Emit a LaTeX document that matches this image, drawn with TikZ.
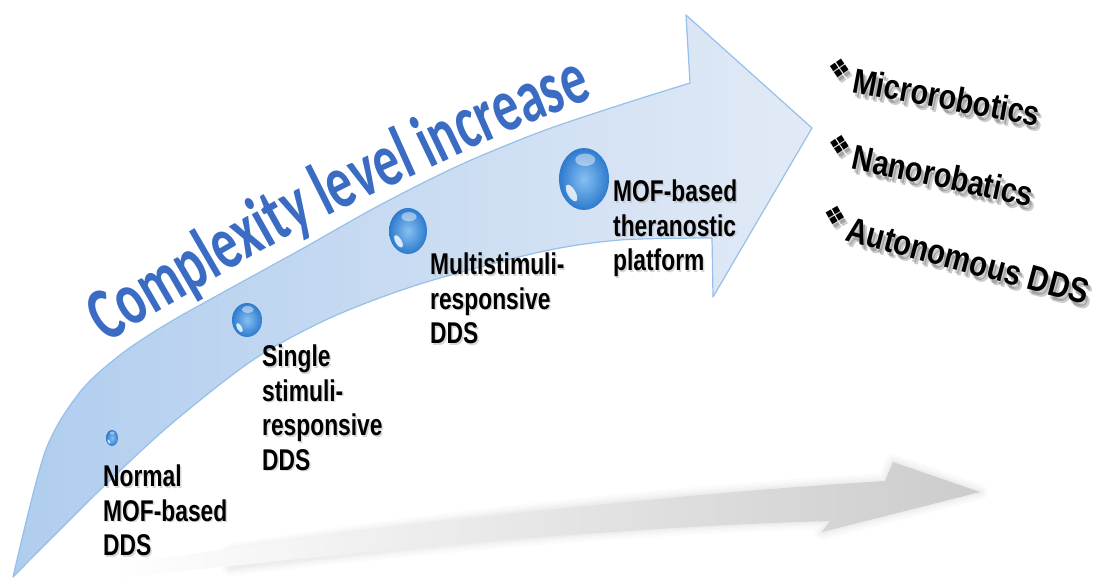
\documentclass[tikz,border=0pt]{standalone}
\usepackage{fontspec}
\usetikzlibrary{decorations.text}
\newfontfamily\wordart{Carlito}[FakeStretch=0.68]
\newfontfamily\lblfont{Liberation Sans}[FakeStretch=0.76]
\newfontfamily\listfont{Liberation Sans}[FakeStretch=0.82]
\newfontfamily\symfont{DejaVu Sans}

\definecolor{bandL}{RGB}{176,205,238}
\definecolor{bandR}{RGB}{226,234,246}
\definecolor{edgeblue}{RGB}{150,192,234}
\definecolor{wordblue}{RGB}{58,108,195}
\definecolor{ballin}{RGB}{135,192,242}
\definecolor{ballout}{RGB}{45,122,205}

% diamond bullet in front of each outcome
\newcommand\dingbul{\raisebox{12pt}{\symfont\fontsize{26}{26}\selectfont ❖}\hspace{4pt}}
% glossy sphere: centre x, centre y, x radius, y radius
\newcommand\glossball[4]{%
  \shade[inner color=ballin, outer color=ballout] (#1,#2) ellipse [x radius=#3pt, y radius=#4pt];
  \fill[white, opacity=0.45] (#1+0.05*#3,#2-0.62*#4) ellipse [x radius=0.4*#3 pt, y radius=0.2*#4 pt];
  \fill[white, opacity=0.8, rotate around={30:(#1-0.5*#3,#2+0.45*#4)}]
    (#1-0.5*#3,#2+0.45*#4) ellipse [x radius=0.16*#3 pt, y radius=0.3*#4 pt];
}

\tikzset{
  lbl/.style={inner sep=0pt, align=left, anchor=north west,
    font=\lblfont\bfseries\fontsize{30}{34.5}\selectfont},
  lblshadow/.style={text=black!30, opacity=0.5},
  lst/.style={inner sep=0pt, anchor=base west,
    font=\listfont\bfseries\fontsize{35}{40}\selectfont},
  lstshadow/.style={text=black, opacity=0.2},
}

\begin{document}
\begin{tikzpicture}[x=1pt, y=-1pt]
\useasboundingbox (0,0) rectangle (1101,579);
\fill[white] (0,0) rectangle (1101,579);

% soft grey shadow arrow on the floor
\foreach \w/\o in {16/0.04, 11/0.05, 7/0.06, 3/0.07}
  \draw[gray!60, line width=\w pt, opacity=\o, line join=round]
    (230,552) .. controls (450,516) and (700,492) .. (885,481) -- (893,462)
    -- (980,492) -- (822,532) -- (830,521)
    .. controls (650,526) and (450,542) .. (230,568) -- cycle;
\shade[left color=white, middle color=gray!33, right color=gray!40]
    (110,566) .. controls (400,522) and (700,492) .. (885,481) -- (893,462)
    -- (980,492) -- (822,532) -- (830,521)
    .. controls (650,526) and (400,546) .. (110,579) -- cycle;

% the curved rising arrow
\shadedraw[draw=edgeblue, line width=1.2pt, line join=round,
           left color=bandL, right color=bandR]
  plot[smooth] coordinates {(13,577) (45,452) (80,392) (120,355) (165,325)
      (220,294) (300,250) (380,205) (460,165) (540,132) (620,105) (690,83)}
  -- (686,15) -- (812,128) -- (713,297) -- (712,238)
  -- plot[smooth] coordinates {(712,238) (620,240) (540,252) (420,284)
      (330,318) (253,360) (170,425) (100,490) (13,577)}
  -- cycle;

% title running along the upper edge
\path[decorate, decoration={text along path, text color=wordblue,
      text={|\wordart\bfseries\fontsize{76}{76}\selectfont|Complexity level increase},
      text align=left}]
  (106,343) -- (150,316) -- (200,287) -- (250,258) -- (300,230) -- (360,200)
  -- (420,173) -- (470,149) -- (520,127) -- (590,99) -- (660,72);

% stage spheres
\glossball{112}{438}{6}{8}
\glossball{247}{320}{15}{17}
\glossball{408}{231}{19}{23}
\glossball{584}{179}{25}{31}

% stage labels
\node[lbl, lblshadow] (n1s) at (104.5,466.5) {Normal\\MOF-based\\DDS};
\node[lbl] (n1) at (103,465) {Normal\\MOF-based\\DDS};
\node[lbl, lblshadow] (n2s) at (263.5,346.5) {Single\\stimuli-\\responsive\\DDS};
\node[lbl] (n2) at (262,345) {Single\\stimuli-\\responsive\\DDS};
\node[lbl, lblshadow] (n3s) at (431.5,254.5) {Multistimuli-\\responsive\\DDS};
\node[lbl] (n3) at (430,253) {Multistimuli-\\responsive\\DDS};
\node[lbl, lblshadow] (n4s) at (614.5,181.5) {MOF-based\\theranostic\\platform};
\node[lbl] (n4) at (613,180) {MOF-based\\theranostic\\platform};

% outcomes with blurred drop shadows
\foreach \dx/\dy [count=\i] in {2/4, 4/6} {
  \node[lst, lstshadow, rotate=-10.5] (r1s\i) at (824+\dx,87+\dy) {\dingbul Microrobotics};
  \node[lst, lstshadow, rotate=-12] (r2s\i) at (824+\dx,163+\dy) {\dingbul Nanorobatics};
  \node[lst, lstshadow, rotate=-15, font=\listfont\bfseries\fontsize{35.5}{40}\selectfont]
    (r3s\i) at (818+\dx,233+\dy) {\dingbul Autonomous DDS};
}
\node[lst, rotate=-10.5] (r1) at (824,87) {\dingbul Microrobotics};
\node[lst, rotate=-12] (r2) at (824,163) {\dingbul Nanorobatics};
\node[lst, rotate=-15, font=\listfont\bfseries\fontsize{35.5}{40}\selectfont]
  (r3) at (818,233) {\dingbul Autonomous DDS};
\end{tikzpicture}
\end{document}
